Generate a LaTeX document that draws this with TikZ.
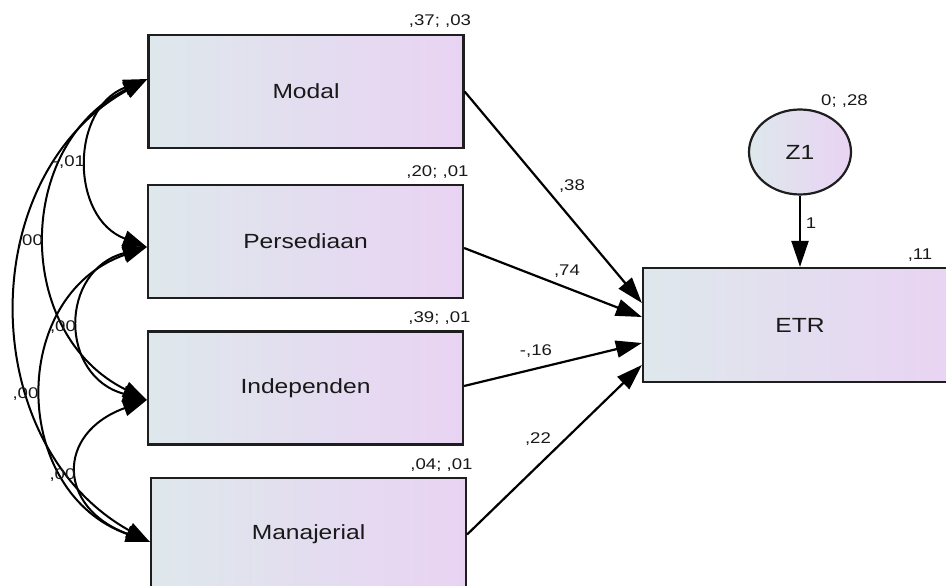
\documentclass[tikz,border=0pt]{standalone}
\usepackage{fontspec}
\setmainfont[FakeStretch=1.2]{Liberation Sans}
\usetikzlibrary{arrows.meta,shapes.geometric}
\definecolor{boxL}{RGB}{222,232,236}
\definecolor{boxR}{RGB}{233,211,243}
\definecolor{edge}{RGB}{30,30,30}
\definecolor{txt}{RGB}{25,25,25}
\begin{document}
\begin{tikzpicture}[x=1pt,y=1pt,
  varbox/.style={draw=edge, line width=2.2pt, left color=boxL, right color=boxR,
    minimum width=315pt, minimum height=113pt, inner sep=0pt,
    font=\fontsize{20.5}{22}\selectfont, text=txt},
  errnode/.style={ellipse, draw=edge, line width=2.2pt, left color=boxL, right color=boxR,
    minimum width=102pt, minimum height=85pt, inner sep=0pt,
    font=\fontsize{20.5}{22}\selectfont, text=txt},
  lbl/.style={font=\fontsize{15.5}{17}\selectfont, text=txt, inner sep=0pt},
  regarrow/.style={-{Triangle[length=26pt,width=17pt]}, line width=2.2pt, draw=black},
  covarrow/.style={{Triangle[length=24pt,width=16pt]}-{Triangle[length=24pt,width=16pt]}, line width=2pt, draw=black}
]
\useasboundingbox (0,0) rectangle (946,586);
\clip (0,0) rectangle (946,586);
\fill[white] (0,0) rectangle (946,586);

% boxes
\node[varbox] (modal) at (306,494.5) {Modal};
\node[varbox] (pers) at (305.5,344.5) {Persediaan};
\node[varbox] (indep) at (305.5,198) {Independen};
\node[varbox] (manaj) at (308.5,51.5) {Manajerial};
\node[varbox, minimum width=314pt, minimum height=114pt] (etr) at (800,261) {ETR};
\node[errnode] (z1) at (800,434) {Z1};

% variance labels
\node[lbl] (vmodal) at (440,565) {,37; ,03};
\node[lbl] (vpers) at (437.5,414) {,20; ,01};
\node[lbl] (vindep) at (439.5,268) {,39; ,01};
\node[lbl] (vmanaj) at (441.5,121) {,04; ,01};
\node[lbl] (vetr) at (920,331) {,11};
\node[lbl] (vz1) at (844.5,485) {0; ,28};

% regression paths
\draw[regarrow] (modal.east) -- ([yshift=22pt]etr.west);
\draw[regarrow] ([yshift=-6.5pt]pers.east) -- ([yshift=8pt]etr.west);
\draw[regarrow] ([yshift=2pt]indep.east) -- ([yshift=-18pt]etr.west);
\draw[regarrow] ([yshift=0pt]manaj.east) -- ([yshift=-40pt]etr.west);
\draw[regarrow] (z1.south) -- (etr.north);

\node[lbl] (w1) at (572,400) {,38};
\node[lbl] (w2) at (567,315) {,74};
\node[lbl] (w3) at (536,235) {-,16};
\node[lbl] (w4) at (538,147) {,22};
\node[lbl] (w5) at (811,363) {1};

% covariance anchors
\coordinate (mA) at ([yshift=12.5pt]modal.west);
\coordinate (pA) at ([yshift=-5.5pt]pers.west);
\coordinate (iA) at ([yshift=-12pt]indep.west);
\coordinate (jA) at ([yshift=-7.5pt]manaj.west);

\draw[covarrow] (mA) .. controls +(200.8:82.6) and +(159.2:82.6) .. (pA);
\draw[covarrow] (pA) .. controls +(195:91.1) and +(165:91.1) .. (iA);
\draw[covarrow] (iA) .. controls +(200:97.9) and +(160:97.9) .. (jA);
\draw[covarrow] (mA) .. controls +(206.2:148.6) and +(153.8:148.6) .. (iA);
\draw[covarrow] (pA) .. controls +(199.4:147.7) and +(160.6:147.7) .. (jA);
\draw[covarrow] (mA) .. controls +(209.2:200) and +(150.8:200) .. (jA);

\node[lbl] (c1) at (69,424) {-,01};
\node[lbl] (c2) at (30,345) {,00};
\node[lbl] (c3) at (63,259) {,00};
\node[lbl] (c4) at (25.5,192) {,00};
\node[lbl] (c5) at (62.5,111) {,00};
\end{tikzpicture}
\end{document}
